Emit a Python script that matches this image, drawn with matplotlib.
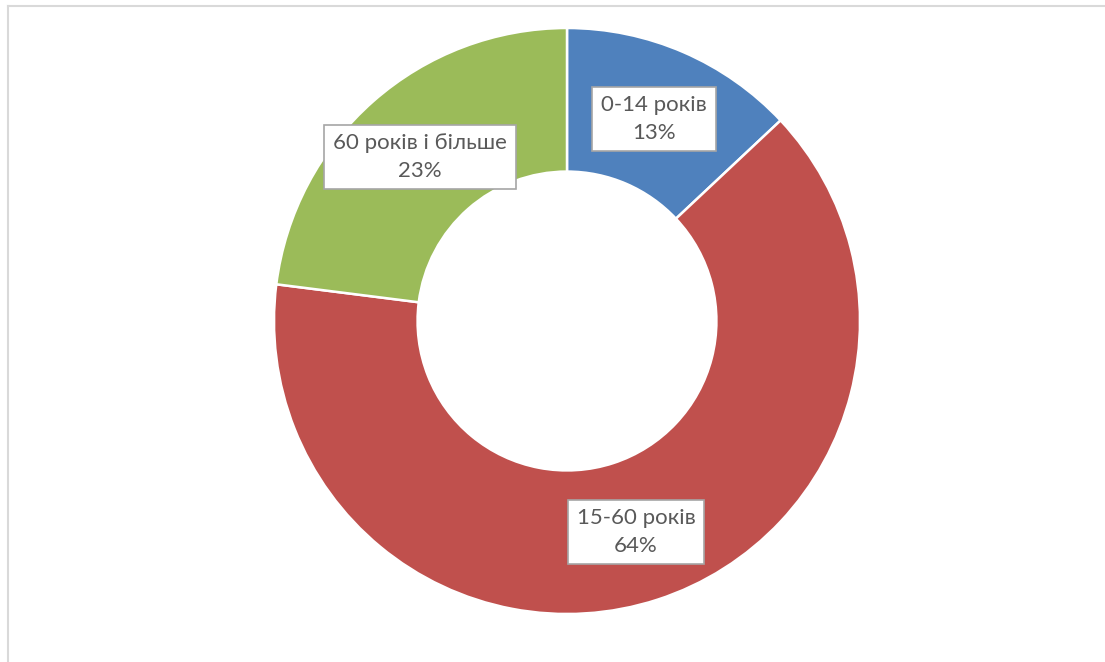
#!/usr/bin/env python3
"""Donut chart: population age structure (shares by age group)."""
import matplotlib
matplotlib.use('Agg')
import matplotlib.pyplot as plt
from matplotlib.lines import Line2D

groups = ['0-14 років', '15-60 років', '60 років і більше']
shares = [13, 64, 23]
colors = ['#4F81BD', '#C0504D', '#9BBB59']

W, H = 1105, 662
fig = plt.figure(figsize=(W / 100, H / 100), dpi=100)

# light frame (only top and left edges are visible in the crop)
fig.add_artist(Line2D([7.5 / W, 1.0], [1 - 5.5 / H, 1 - 5.5 / H],
                      color='#D9D9D9', linewidth=1.5, transform=fig.transFigure))
fig.add_artist(Line2D([7.5 / W, 7.5 / W], [0.0, 1 - 5.5 / H],
                      color='#D9D9D9', linewidth=1.5, transform=fig.transFigure))

cx, cy, r = 567, 321, 293
ax = fig.add_axes([(cx - r) / W, (H - cy - r) / H, 2 * r / W, 2 * r / H])
wedges, _ = ax.pie(shares, colors=colors, startangle=90, counterclock=False,
                   radius=1.0,
                   wedgeprops=dict(width=0.49, edgecolor='white', linewidth=1.8))
ax.set_xlim(-1, 1)
ax.set_ylim(-1, 1)
ax.set_aspect('equal')
ax.axis('off')

# label positions in pixel space (centre of each box)
label_pos = [(654, 119), (636, 532), (420, 157)]
total = sum(shares)
for name, val, (px, py) in zip(groups, shares, label_pos):
    fig.text(px / W, 1 - py / H, f"{name}\n{val / total:.0%}",
             ha='center', va='center', fontsize=16, color='#595959',
             family=['Lato', 'DejaVu Sans'], linespacing=1.45,
             bbox=dict(boxstyle='square,pad=0.4', facecolor='white',
                       edgecolor='#A6A6A6', linewidth=1.2))

fig.savefig('out.png', dpi=100, facecolor='white')
